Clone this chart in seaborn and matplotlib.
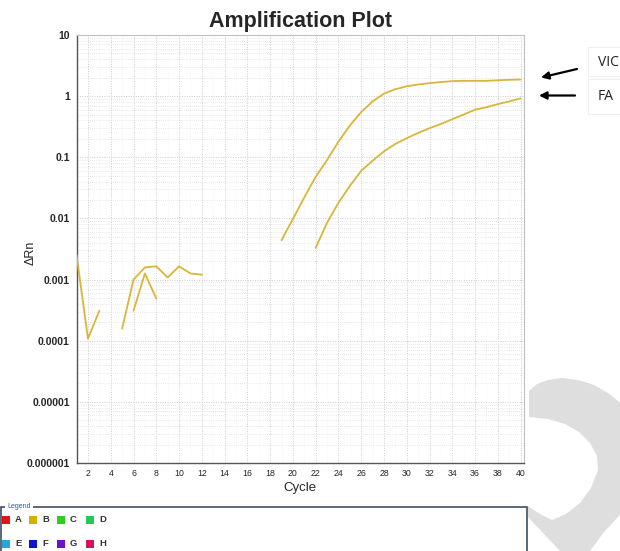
import numpy as np
import pandas as pd
import matplotlib
matplotlib.use("Agg")
import matplotlib.pyplot as plt
import seaborn as sns
from matplotlib.patches import Rectangle, Polygon, FancyArrowPatch
from matplotlib.ticker import FixedLocator, FixedFormatter, LogLocator, MultipleLocator, NullFormatter

# ---------------- data ----------------
noise1_cycles = [1, 2, 3]
noise1_values = [0.0025, 0.000108, 0.00031]
noise2_cycles = [5, 6, 7, 8, 9, 10, 11, 12]
noise2_values = [0.000158, 0.001, 0.00158, 0.00165, 0.00108, 0.00165, 0.00126, 0.0012]
noise3_cycles = [6, 7, 8]
noise3_values = [0.00031, 0.00126, 0.00049]
vic_cycles = list(range(19, 41))
vic_values = [0.0044, 0.0098, 0.022, 0.048, 0.09, 0.18, 0.33, 0.55, 0.82, 1.1, 1.3,
              1.45, 1.55, 1.63, 1.7, 1.76, 1.78, 1.78, 1.78, 1.82, 1.85, 1.87]
fam_cycles = list(range(22, 41))
fam_values = [0.0033, 0.0085, 0.018, 0.034, 0.06, 0.088, 0.125, 0.165, 0.205, 0.25,
              0.3, 0.35, 0.42, 0.5, 0.6, 0.66, 0.74, 0.82, 0.92]

x_ticks = list(range(2, 41, 2))
y_ticks = [1e-6, 1e-5, 1e-4, 1e-3, 1e-2, 1e-1, 1, 10]
y_tick_labels = ["0.000001", "0.00001", "0.0001", "0.001", "0.01", "0.1", "1", "10"]

legend_labels = ["A", "B", "C", "D", "E", "F", "G", "H"]
legend_colors = ["#e01515", "#d6b000", "#33cc22", "#22cc55",
                 "#22a8dd", "#0a14d0", "#7010c8", "#d0145e"]

arrow_labels = ["VIC", "FA"]

segments = [("n1", noise1_cycles, noise1_values), ("n2", noise2_cycles, noise2_values),
            ("n3", noise3_cycles, noise3_values), ("VIC", vic_cycles, vic_values),
            ("FAM", fam_cycles, fam_values)]
df = pd.concat([pd.DataFrame({"cycle": c, "dRn": v, "segment": s}) for s, c, v in segments],
               ignore_index=True)

# ---------------- figure ----------------
W, H = 620, 551
sns.set_style("white")
plt.rcParams["font.family"] = ["Liberation Sans", "DejaVu Sans"]
fig = plt.figure(figsize=(W / 100, H / 100), dpi=100)

def fx(x):
    return x / W

def fy(y):
    return 1 - y / H

left, right, top, bottom = 76.6, 524, 35, 463
ax = fig.add_axes([fx(left), fy(bottom), fx(right) - fx(left), fy(top) - fy(bottom)])

gold = "#d8b63a"
sns.lineplot(data=df, x="cycle", y="dRn", units="segment", estimator=None, sort=False,
             color=gold, linewidth=1.3, ax=ax, zorder=3)

ax.set_yscale("log")
ax.set_ylim(1e-6, 10)
ax.set_xlim(1, 40.3)

ax.yaxis.set_major_locator(FixedLocator(y_ticks))
ax.yaxis.set_major_formatter(FixedFormatter(y_tick_labels))
ax.yaxis.set_minor_locator(LogLocator(base=10, subs=np.arange(2, 10), numticks=20))
ax.yaxis.set_minor_formatter(NullFormatter())
ax.xaxis.set_major_locator(FixedLocator(x_ticks))
ax.xaxis.set_minor_locator(MultipleLocator(1))

ax.grid(which="major", axis="both", color="#cccccc", linestyle=(0, (1, 1.5)), linewidth=0.7)
ax.grid(which="minor", axis="y", color="#e0e0e0", linestyle=(0, (1, 1.5)), linewidth=0.6)
ax.grid(which="minor", axis="x", color="#f0f0f0", linestyle=(0, (1, 1.5)), linewidth=0.5)
ax.set_axisbelow(True)

ax.tick_params(axis="y", which="major", labelsize=7.5, length=3, width=0.6, color="#555555", pad=2)
ax.tick_params(axis="x", which="major", labelsize=6.3, length=2.5, width=0.6, color="#555555", pad=2)
ax.tick_params(which="minor", length=0)
for lab in ax.get_yticklabels():
    lab.set_fontweight("bold")

for s in ["left", "bottom"]:
    ax.spines[s].set_color("#555555")
    ax.spines[s].set_linewidth(1.0)
for s in ["top", "right"]:
    ax.spines[s].set_color("#c0c0c0")
    ax.spines[s].set_linewidth(0.8)

ax.set_xlabel("Cycle", fontsize=9.5, labelpad=3)
ax.set_ylabel("ΔRn", fontsize=9)
ax.yaxis.set_label_coords((37 - left) / (right - left), 0.49)
ax.set_title("Amplification Plot", fontsize=15.5, fontweight="bold", pad=6)

# ---------------- watermark shape ----------------
wm = [(529, 391), (537, 384), (548, 380), (562, 378), (578, 380), (594, 385), (608, 393),
      (622, 404), (640, 425), (640, 480), (630, 500), (618, 517), (604, 532), (590, 551),
      (560, 551), (528, 517),
      (528, 506), (540, 514), (552, 520), (566, 514), (580, 503), (591, 488), (598, 470),
      (597, 456), (590, 443), (579, 432), (565, 424), (548, 419), (529, 417)]
fig.add_artist(Polygon([(fx(x), fy(y)) for x, y in wm], closed=True, transform=fig.transFigure,
                       facecolor="#dedede", edgecolor="none", zorder=0))

# ---------------- legend box ----------------
fig.add_artist(Rectangle((fx(1), fy(560)), fx(527) - fx(1), fy(507) - fy(560),
                         transform=fig.transFigure, facecolor="white",
                         edgecolor="#2e3f52", linewidth=1.1, zorder=2))
fig.add_artist(Rectangle((fx(5), fy(511)), fx(33) - fx(5), fy(503) - fy(511),
                         transform=fig.transFigure, facecolor="white",
                         edgecolor="none", zorder=3))
fig.text(fx(7), fy(507), "Legend", fontsize=5, color="#2a5aa8", va="center", ha="left", zorder=4)

sq = 8
col_x = [2, 29, 57, 86]
row_y = [520, 544]
for i, (lab, col) in enumerate(zip(legend_labels, legend_colors)):
    r, c = divmod(i, 4)
    x0, yc = col_x[c], row_y[r]
    fig.add_artist(Rectangle((fx(x0), fy(yc + sq / 2)), fx(sq), sq / H,
                             transform=fig.transFigure, facecolor=col,
                             edgecolor="none", zorder=4))
    fig.text(fx(x0 + 13), fy(yc), lab, fontsize=6.8, fontweight="bold", color="#333333",
             va="center", ha="left", zorder=4)

# ---------------- arrows and labels ----------------
for (x0, y0, x1, y1) in [(588, 47, 630, 76), (588, 79, 630, 114)]:
    fig.add_artist(Rectangle((fx(x0), fy(y1)), fx(x1) - fx(x0), fy(y0) - fy(y1),
                             transform=fig.transFigure, facecolor="white",
                             edgecolor="#efefef", linewidth=0.8, zorder=1))

arrows = [((577, 69), (541, 77.5)), ((575, 95.5), (539, 95.5))]
for (a, b) in arrows:
    fig.add_artist(FancyArrowPatch((fx(a[0]), fy(a[1])), (fx(b[0]), fy(b[1])),
                                   transform=fig.transFigure, arrowstyle="-|>",
                                   mutation_scale=11, linewidth=1.6, color="black",
                                   shrinkA=0, shrinkB=0, zorder=5))
fig.text(fx(598), fy(63), arrow_labels[0], fontsize=10, family=["Open Sans", "DejaVu Sans"],
         color="#222222", va="center", ha="left", zorder=5)
fig.text(fx(598), fy(96), arrow_labels[1], fontsize=10, family=["Open Sans", "DejaVu Sans"],
         color="#222222", va="center", ha="left", zorder=5)

fig.savefig("out.png", dpi=100, facecolor="white")
